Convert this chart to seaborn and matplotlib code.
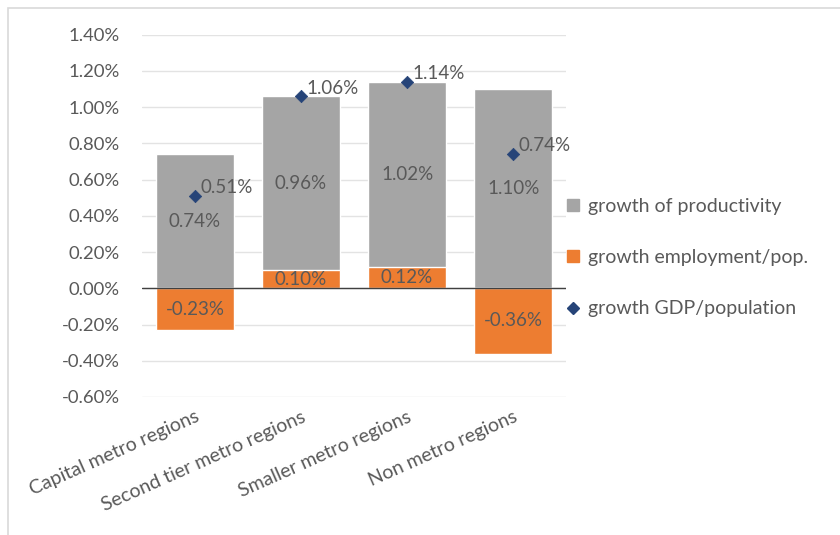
import numpy as np
import pandas as pd
import matplotlib
matplotlib.use("Agg")
import matplotlib.pyplot as plt
import seaborn as sns
from matplotlib.patches import Rectangle, Patch
from matplotlib.lines import Line2D
from matplotlib.ticker import MultipleLocator, FuncFormatter

# data (percent)
regions = ["Capital metro regions", "Second tier metro regions",
           "Smaller metro regions", "Non metro regions"]
productivity = [0.74, 0.96, 1.02, 1.10]
employment = [-0.23, 0.10, 0.12, -0.36]
gdp_pop = [0.51, 1.06, 1.14, 0.74]

gray = "#A5A5A5"
orange = "#ED7D31"
blue = "#264478"
txt = "#595959"

sns.set_style("white")
plt.rcParams["font.family"] = ["Lato", "DejaVu Sans"]

df = pd.DataFrame({"region": regions, "prod": productivity,
                   "emp": employment, "gdp": gdp_pop})
df["base"] = df["emp"].clip(lower=0)
df["top"] = df["base"] + df["prod"]

fig = plt.figure(figsize=(8.4, 5.35), dpi=100)
ax = fig.add_axes([0.169, 0.258, 0.505, 0.677])

# border around the chart (runs off the right and bottom edges)
fig.patches.append(Rectangle((8 / 840, -10 / 535), 850 / 840, 537 / 535,
                             transform=fig.transFigure, fill=False,
                             edgecolor="#D9D9D9", lw=1.2))

sns.barplot(data=df, x="region", y="top", color=gray, width=0.73,
            saturation=1, ax=ax, zorder=2)
sns.barplot(data=df, x="region", y="emp", color=orange, width=0.73,
            saturation=1, ax=ax, zorder=3)
sns.scatterplot(data=df, x="region", y="gdp", marker="D", s=40,
                color=blue, edgecolor=blue, ax=ax, zorder=5)

ax.axhline(0, color="#404040", lw=1, zorder=4)

fs = 13.5
# segment labels
for i, r in df.iterrows():
    ax.text(i, r["base"] + r["prod"] / 2, f"{r['prod']:.2f}%", ha="center",
            va="center", fontsize=fs, color=txt, zorder=6)
    ax.text(i, r["emp"] / 2, f"{r['emp']:.2f}%", ha="center",
            va="center", fontsize=fs, color=txt, zorder=6)
    ax.annotate(f"{r['gdp']:.2f}%", (i, r["gdp"]), xytext=(4, 6),
                textcoords="offset points", ha="left", va="center",
                fontsize=fs, color=txt, zorder=6)

ax.set_ylim(-0.6, 1.4)
ax.set_xlim(-0.5, 3.5)
ax.yaxis.set_major_locator(MultipleLocator(0.2))
ax.yaxis.set_major_formatter(FuncFormatter(lambda v, p: f"{v:.2f}%"))
ax.grid(axis="y", color="#E3E3E3", lw=1, zorder=0)
ax.set_axisbelow(True)
for s in ax.spines.values():
    s.set_visible(False)
ax.set_xlabel("")
ax.set_ylabel("")
ax.tick_params(axis="both", length=0, labelsize=13.3, labelcolor=txt)
ax.tick_params(axis="y", pad=16)
ax.tick_params(axis="x", labelsize=14, pad=8)
plt.setp(ax.get_xticklabels(), rotation=24, ha="right",
         rotation_mode="anchor")

handles = [Patch(color=gray), Patch(color=orange),
           Line2D([], [], marker="D", ls="none", color=blue, markersize=6)]
labels = ["growth of productivity", "growth employment/pop.",
          "growth GDP/population"]
leg = ax.legend(handles, labels, loc="center left",
                bbox_to_anchor=(0.961, 0.385), frameon=False, fontsize=14,
                labelspacing=1.75, handlelength=0.6, handleheight=0.6,
                handletextpad=0.45, labelcolor=txt)

fig.savefig("out.png", dpi=100)
